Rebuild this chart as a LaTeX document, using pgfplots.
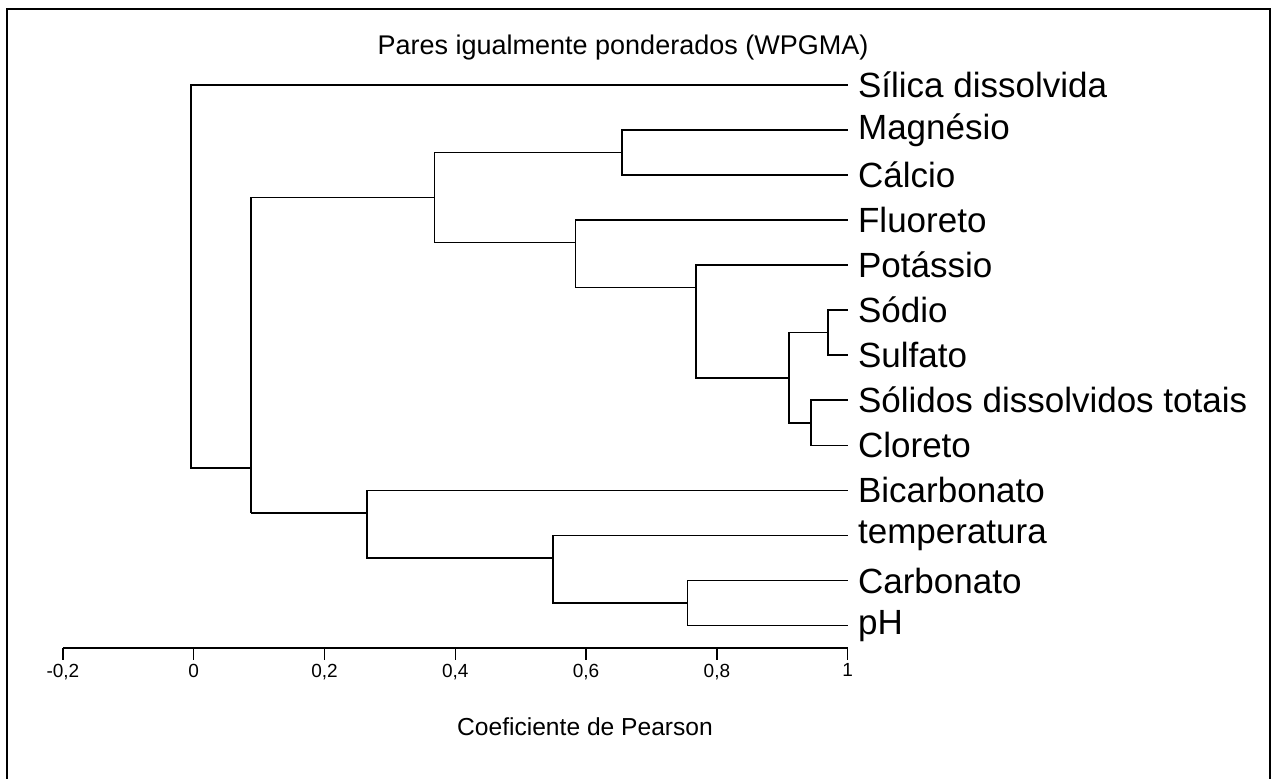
\documentclass[border=0pt]{standalone}
\usepackage{fontspec}
\setmainfont{Liberation Sans}
\usepackage{pgfplots}
\pgfplotsset{compat=1.18}
\newcommand{\leaffont}{\fontsize{17.5}{20}\selectfont}
\pgfplotsset{tree/.style={black, solid, line width=0.8pt, mark=none}}
\begin{document}
\begin{tikzpicture}
\begin{scope}[x=0.5pt,y=-0.5pt]
\path[use as bounding box] (0,0) rectangle (1274,778);
\draw[line width=1.2pt] (7,790) -- (7,9) -- (1270,9) -- (1270,790);
\node[font=\fontsize{13.5}{16}\selectfont] at (623,48) {Pares igualmente ponderados (WPGMA)};
\node[font=\fontsize{12.3}{15}\selectfont] at (585,727) {Coeficiente de Pearson};
\end{scope}
\begin{axis}[
  at={(31.45pt,-323.85pt)}, anchor=south west,
  scale only axis, width=392.4pt, height=281.5pt,
  xmin=-0.2, xmax=1, ymin=-12.49, ymax=0,
  clip=false,
  axis x line=bottom, axis y line=none,
  x axis line style={-, line width=0.8pt},
  xtick={-0.2,0,0.2,0.4,0.6,0.8,1},
  xticklabels={{-0,2},0,{0,2},{0,4},{0,6},{0,8},1},
  tick align=outside, major tick length=6pt,
  every tick/.style={black, line width=0.7pt},
  xticklabel style={font=\fontsize{9.5}{11}\selectfont, yshift=1.5pt},
]
% root
\addplot[tree] coordinates {(1,0) (-0.004,0) (-0.004,-8.5) (0.0875,-8.5)};
\addplot[tree] coordinates {(0.0875,-2.5) (0.0875,-9.5)};
\addplot[tree] coordinates {(0.0875,-2.5) (0.368,-2.5)};
\addplot[tree] coordinates {(0.368,-1.5) (0.368,-3.5)};
\addplot[tree] coordinates {(0.368,-1.5) (0.655,-1.5)};
\addplot[tree] coordinates {(1,-1) (0.655,-1) (0.655,-2) (1,-2)};
\addplot[tree] coordinates {(0.368,-3.5) (0.584,-3.5)};
\addplot[tree] coordinates {(1,-3) (0.584,-3) (0.584,-4.5) (0.768,-4.5)};
\addplot[tree] coordinates {(1,-4) (0.768,-4) (0.768,-6.5) (0.910,-6.5)};
\addplot[tree] coordinates {(1,-5) (0.970,-5) (0.970,-6) (1,-6)};
\addplot[tree] coordinates {(0.970,-5.5) (0.910,-5.5) (0.910,-7.5) (0.944,-7.5)};
\addplot[tree] coordinates {(1,-7) (0.944,-7) (0.944,-8) (1,-8)};
\addplot[tree] coordinates {(0.0875,-9.5) (0.265,-9.5)};
\addplot[tree] coordinates {(1,-9) (0.265,-9) (0.265,-10.5) (0.549,-10.5)};
\addplot[tree] coordinates {(1,-10) (0.549,-10) (0.549,-11.5) (0.755,-11.5)};
\addplot[tree] coordinates {(1,-11) (0.755,-11) (0.755,-12) (1,-12)};
% leaf labels
\foreach \k/\t in {0/{Sílica dissolvida},1/{Magnésio},2/{Cálcio},3/{Fluoreto},4/{Potássio},5/{Sódio},6/{Sulfato},7/{Sólidos dissolvidos totais},8/{Cloreto},9/{Bicarbonato},10/{temperatura},11/{Carbonato},12/{pH}}{
  \edef\temp{\noexpand\node[anchor=west, inner sep=0pt, xshift=5pt, font=\noexpand\leaffont] at (axis cs:1,-\k) {\t};}
  \temp
}
\end{axis}
\end{tikzpicture}
\end{document}
